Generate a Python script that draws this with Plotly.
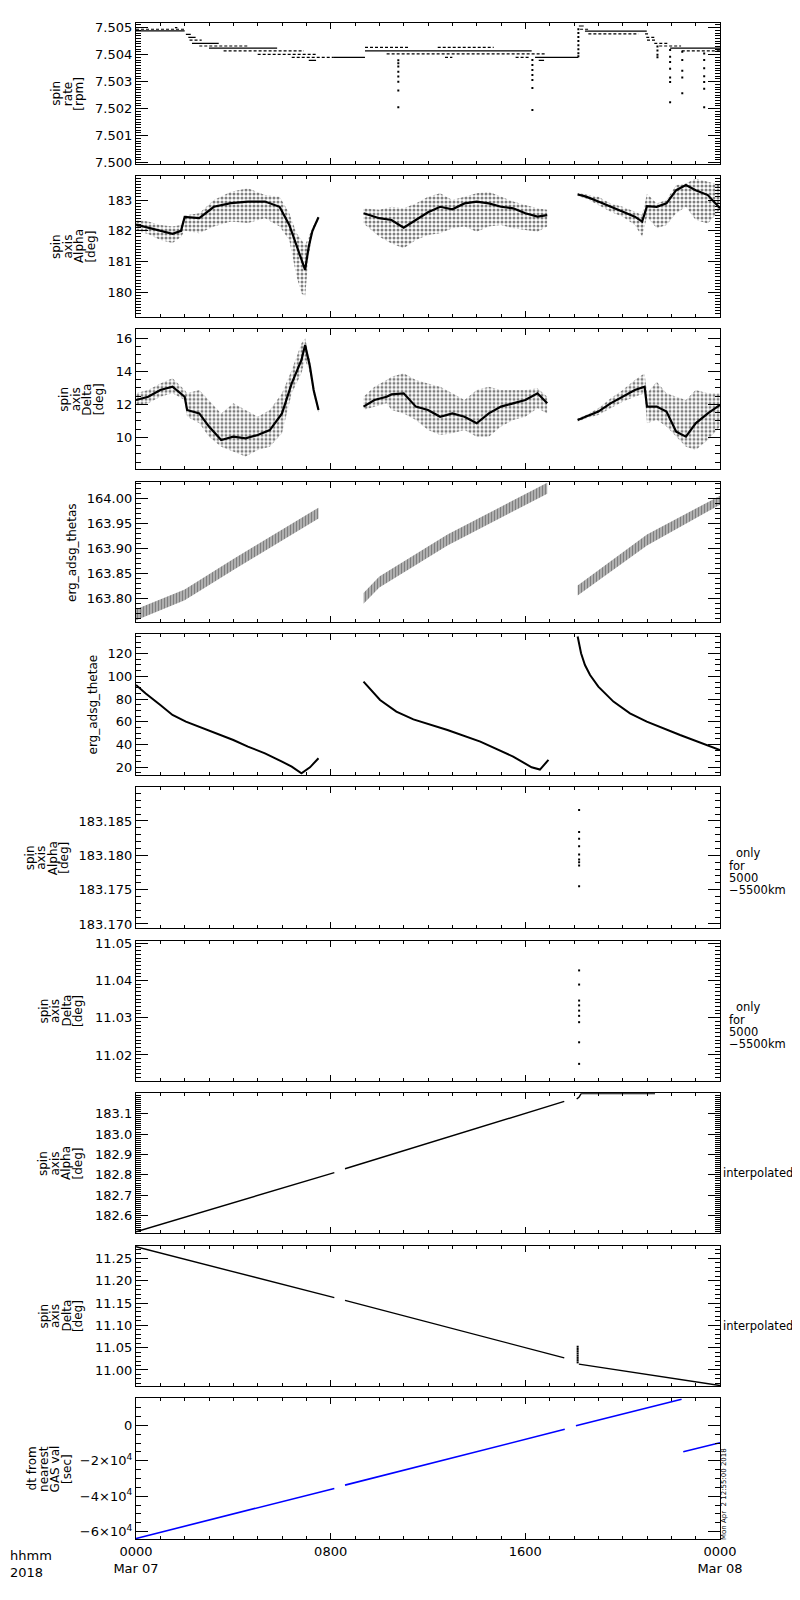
import plotly.graph_objects as go

FONT = "DejaVu Sans"
BLACK = "#000000"
BLUE = "#0000ff"

# -------------------------
# Panel 1: spin rate [rpm]  (flat steps, hour of day -> rpm)
# -------------------------
rate_solid_start = [0.0, 2.05, 2.15, 2.3, 3.0, 7.1, 8.1, 9.41, 16.4, 16.55, 18.2, 18.45, 21.95]
rate_solid_end = [2.0, 2.25, 2.45, 3.4, 5.8, 7.4, 9.41, 16.26, 18.18, 16.77, 18.4, 20.99, 24.0]
rate_solid_val = [7.50488, 7.50475, 7.50464, 7.50442, 7.50424, 7.50379, 7.50390, 7.50414,
                  7.50390, 7.50379, 7.50506, 7.50487, 7.50424]

rate_dot_start = [0.0, 1.6, 2.2, 2.6, 3.6, 5.0, 6.4, 9.41, 12.4, 10.3, 12.7, 15.6, 18.25,
                  18.59, 20.92, 20.97, 21.0, 21.3, 21.5, 22.43]
rate_dot_end = [2.0, 1.7, 2.7, 4.6, 6.9, 7.4, 8.1, 11.2, 14.7, 16.8, 13.0, 16.2, 18.6,
                20.65, 21.06, 21.38, 21.38, 21.9, 22.4, 24.0]
rate_dot_val = [7.50494, 7.50500, 7.50454, 7.50432, 7.50414, 7.50401, 7.50390, 7.50427,
                7.50427, 7.50403, 7.50390, 7.50390, 7.50494, 7.50477, 7.50477, 7.50464,
                7.50454, 7.50442, 7.50432, 7.50414]

rate_drop_hour = [10.78, 16.29, 18.18, 21.43, 21.95, 22.45, 23.35]
rate_drop_vals = [
    [7.50379, 7.50368, 7.50356, 7.50337, 7.50319, 7.50300, 7.50267, 7.50205],
    [7.50380, 7.50362, 7.50343, 7.50325, 7.50306, 7.50276, 7.50195],
    [7.50394, 7.50405, 7.50420, 7.50435, 7.50450, 7.50465, 7.50480, 7.50494],
    [7.50430, 7.50415, 7.50400, 7.50390],
    [7.50417, 7.50392, 7.50373, 7.50348, 7.50315, 7.50299, 7.50224],
    [7.50411, 7.50380, 7.50340, 7.50315, 7.50257],
    [7.50404, 7.50380, 7.50350, 7.50320, 7.50299, 7.50274, 7.50205],
]

# -------------------------
# Panel 2: spin axis Alpha [deg]  (scatter cloud: upper / core / lower)
# -------------------------
alpha_hr_1 = [0.0, 0.5, 1.0, 1.5, 1.85, 2.0, 2.6, 3.2, 3.9, 4.6, 5.3, 5.9, 6.3, 6.6, 6.8, 6.95, 7.1, 7.25, 7.5]
alpha_up_1 = [182.35, 182.30, 182.19, 182.14, 182.19, 182.50, 182.57, 183.00, 183.27, 183.38,
              183.16, 183.11, 182.57, 181.92, 181.70, 181.54, 181.81, 182.10, 182.48]
alpha_core_1 = [182.20, 182.10, 182.00, 181.90, 182.00, 182.45, 182.41, 182.78, 182.90, 182.95,
                182.95, 182.78, 182.19, 181.49, 181.05, 180.73, 181.49, 182.00, 182.44]
alpha_lo_1 = [182.00, 181.90, 181.70, 181.60, 181.80, 182.00, 181.92, 182.14, 182.30, 182.25,
              182.41, 182.14, 181.70, 180.51, 179.97, 179.86, 181.20, 181.90, 182.38]

alpha_hr_2 = [9.35, 10.0, 10.5, 11.0, 11.5, 12.0, 12.5, 13.0, 13.5, 14.0, 14.5, 15.0, 15.5, 16.0, 16.5, 16.9]
alpha_up_2 = [182.73, 182.68, 182.78, 182.73, 182.89, 183.11, 183.22, 183.00, 183.11, 183.22,
              183.27, 183.11, 182.95, 182.84, 182.73, 182.68]
alpha_core_2 = [182.57, 182.41, 182.35, 182.10, 182.35, 182.60, 182.78, 182.70, 182.89, 182.95,
                182.89, 182.78, 182.73, 182.57, 182.46, 182.51]
alpha_lo_2 = [182.24, 181.81, 181.59, 181.43, 181.70, 181.86, 181.92, 182.08, 182.14, 181.97,
              182.14, 182.19, 182.08, 182.03, 181.97, 182.14]

alpha_hr_3 = [18.15, 18.5, 19.0, 19.5, 20.0, 20.5, 20.8, 21.0, 21.4, 21.8, 22.2, 22.6, 23.0, 23.5, 24.0]
alpha_up_3 = [183.23, 183.18, 183.11, 182.89, 182.78, 182.62, 182.51, 183.20, 182.89, 183.00,
              183.49, 183.54, 183.70, 183.59, 183.49]
alpha_core_3 = [183.18, 183.11, 182.95, 182.78, 182.62, 182.46, 182.30, 182.80, 182.78, 182.89,
                183.32, 183.49, 183.32, 183.16, 182.73]
alpha_lo_3 = [183.13, 183.05, 182.84, 182.62, 182.46, 182.19, 181.81, 182.46, 182.08, 182.19,
              182.57, 182.78, 182.35, 182.24, 182.68]

# -------------------------
# Panel 3: spin axis Delta [deg]
# -------------------------
delta_hr_1 = [0.0, 0.5, 1.0, 1.5, 2.0, 2.1, 2.6, 3.0, 3.5, 4.0, 4.5, 5.0, 5.5, 6.0, 6.4, 6.8, 6.95, 7.15, 7.3, 7.5]
delta_up_1 = [12.67, 12.87, 13.27, 13.58, 12.87, 12.67, 12.87, 12.26, 11.45, 12.06, 11.66, 11.25,
              11.66, 12.67, 14.08, 15.70, 16.00, 14.69, 13.10, 11.85]
delta_core_1 = [12.26, 12.46, 12.87, 13.07, 12.46, 11.66, 11.45, 10.65, 9.84, 10.04, 9.94, 10.14,
                10.44, 11.45, 13.27, 14.69, 15.60, 14.28, 12.87, 11.66]
delta_lo_1 = [11.96, 12.06, 12.46, 12.67, 12.26, 11.25, 10.85, 10.04, 9.43, 9.13, 8.83, 9.23,
              9.43, 10.24, 12.67, 13.88, 14.69, 13.88, 12.60, 11.50]

delta_hr_2 = [9.35, 9.8, 10.3, 10.5, 11.0, 11.5, 12.0, 12.5, 13.0, 13.5, 14.0, 14.5, 15.0, 15.5, 16.0, 16.5, 16.9]
delta_up_2 = [12.46, 13.07, 13.47, 13.68, 13.88, 13.47, 13.27, 13.07, 12.67, 12.26, 12.87, 13.07,
              12.87, 12.87, 12.87, 12.97, 12.46]
delta_core_2 = [11.86, 12.26, 12.46, 12.60, 12.67, 11.86, 11.66, 11.25, 11.45, 11.25, 10.85, 11.45,
                11.86, 12.06, 12.26, 12.67, 12.06]
delta_lo_2 = [11.66, 11.86, 12.06, 11.66, 11.45, 11.05, 10.44, 10.14, 10.24, 10.44, 10.04, 10.04,
              10.65, 11.05, 11.25, 11.76, 11.45]

delta_hr_3 = [18.15, 18.5, 19.0, 19.5, 20.0, 20.5, 20.9, 21.0, 21.4, 21.8, 22.2, 22.6, 23.0, 23.5, 24.0]
delta_up_3 = [11.15, 11.35, 11.76, 12.36, 12.87, 13.47, 13.88, 12.67, 13.37, 12.67, 12.46, 12.26,
              12.87, 12.67, 12.67]
delta_core_3 = [11.05, 11.25, 11.56, 12.06, 12.46, 12.87, 13.07, 11.86, 11.86, 11.56, 10.34, 10.04,
                10.85, 11.45, 11.96]
delta_lo_3 = [10.95, 11.15, 11.35, 11.76, 12.16, 12.46, 12.67, 10.85, 11.05, 10.65, 10.04, 9.43,
              9.23, 9.84, 10.65]

# -------------------------
# Panel 4: erg_adsg_thetas (hatched band)
# -------------------------
thetas_hr = [[0.0, 2.0, 4.0, 6.0, 7.5], [9.35, 10.0, 12.8, 16.9], [18.15, 21.0, 24.0]]
thetas_up = [[163.778, 163.818, 163.879, 163.938, 163.982], [163.811, 163.844, 163.928, 164.032],
             [163.826, 163.928, 164.006]]
thetas_lo = [[163.756, 163.796, 163.857, 163.916, 163.960], [163.789, 163.822, 163.906, 164.010],
             [163.806, 163.906, 163.988]]

# -------------------------
# Panel 5: erg_adsg_thetae
# -------------------------
thetae_hr = [
    [0.0, 0.4, 1.0, 1.5, 2.05, 2.6, 3.3, 4.0, 4.6, 5.3, 6.0, 6.4, 6.8, 7.15, 7.5],
    [9.35, 10.03, 10.7, 11.4, 12.8, 14.15, 15.5, 16.26, 16.6, 16.95],
    [18.15, 18.29, 18.45, 18.66, 19.0, 19.62, 20.3, 20.99, 22.36, 24.0],
]
thetae_val = [
    [92.4, 85.0, 74.8, 66.0, 60.2, 55.8, 50.0, 44.0, 38.2, 32.3, 25.0, 20.6, 14.7, 20.0, 28.0],
    [95.4, 79.2, 69.0, 62.2, 52.8, 42.6, 29.4, 20.0, 18.0, 26.5],
    [135.0, 120.3, 110.0, 101.2, 91.0, 77.8, 67.5, 60.2, 48.4, 35.2],
]

# -------------------------
# Panels 6-7: only for 5000-5500km (sparse points)
# -------------------------
gas_hr = 18.21
gas_alpha = [183.1866, 183.1834, 183.1824, 183.1813, 183.1801, 183.1794, 183.1790, 183.1785, 183.1755]
gas_delta = [11.0427, 11.0389, 11.0346, 11.0333, 11.0319, 11.0305, 11.0288, 11.0234, 11.0176]

# -------------------------
# Panels 8-9: interpolated
# -------------------------
ialpha_hr = [[0.0, 8.15], [8.59, 17.6], [18.11, 18.2, 18.3, 21.33]]
ialpha_val = [[182.521, 182.811], [182.830, 183.160], [183.172, 183.180, 183.199, 183.199]]

idelta_hr = [[0.0, 8.15], [8.59, 17.6], [18.2, 24.0]]
idelta_val = [[11.276, 11.162], [11.156, 11.027], [11.013, 10.965]]
idelta_jump = [11.052, 11.047, 11.042, 11.037, 11.032, 11.027, 11.022, 11.017]
idelta_jump_hr = 18.15

# -------------------------
# Panel 10: dt from nearest GAS val [sec]
# -------------------------
dt_hr = [[0.0, 8.15], [8.59, 17.62], [18.08, 22.42], [22.49, 24.0]]
dt_val = [[-63840, -35590], [-33730, -2260], [-200, 14690], [-14900, -9830]]

# -------------------------
# Axis setup per panel
# -------------------------
panel_top = [23.3, 176.0, 329.3, 481.7, 634.3, 787.3, 941.0, 1093.3, 1245.7, 1398.3]
panel_bot = [164.0, 316.7, 469.3, 622.3, 774.7, 928.3, 1081.0, 1233.3, 1386.0, 1539.0]
y_ranges = [[7.49995, 7.50516], [179.21, 183.78], [8.06, 16.55], [163.752, 164.034], [13.5, 137.0],
            [183.16937, 183.1899], [11.013, 11.0506], [182.5135, 183.1998], [10.964, 11.2784],
            [-64120, 15250]]
y_tick0 = [7.5, 180, 10, 163.8, 20, 183.17, 11.02, 182.6, 11.0, 0]
y_dtick = [0.001, 1, 2, 0.05, 20, 0.005, 0.01, 0.1, 0.05, 20000]
y_minor = [0.0001, 0.1, 0.5, 0.01, 5, 0.001, 0.001, 0.01, 0.01, 5000]
y_fmt = [".3f", "d", "d", ".2f", "d", ".3f", ".2f", ".1f", ".2f", "d"]
dt_tickvals = [-60000, -40000, -20000, 0]
dt_ticktext = ["\u22126\u00d710<sup>4</sup>", "\u22124\u00d710<sup>4</sup>",
               "\u22122\u00d710<sup>4</sup>", "0"]

y_titles = [
    ["spin", "rate", "[rpm]"],
    ["spin", "axis", "Alpha", "[deg]"],
    ["spin", "axis", "Delta", "[deg]"],
    ["erg_adsg_thetas"],
    ["erg_adsg_thetae"],
    ["spin", "axis", "Alpha", "[deg]"],
    ["spin", "axis", "Delta", "[deg]"],
    ["spin", "axis", "Alpha", "[deg]"],
    ["spin", "axis", "Delta", "[deg]"],
    ["dt from", "nearest", "GAS val", "[sec]"],
]
title_x = [67.5, 74, 81.7, 72, 92, 46.7, 60.8, 61, 61, 49]

# the page body keeps an 8px margin, so the figure sits at (8, 8)
OFF = 8
W, H = 800 - 2 * OFF, 1600 - 2 * OFF


def px_x(x):
    return (x - OFF) / W


def px_y(y):
    return 1 - (y - OFF) / H


def axn(k):
    return ("x" if k == 0 else f"x{k+1}", "y" if k == 0 else f"y{k+1}")


fig = go.Figure()


def add_line(k, xs, ys, width=1.0, color=BLACK, dash="solid"):
    xa, ya = axn(k)
    fig.add_trace(go.Scatter(x=xs, y=ys, mode="lines", xaxis=xa, yaxis=ya,
                             line=dict(color=color, width=width, dash=dash),
                             hoverinfo="skip", showlegend=False))


def add_dots(k, xs, ys, size=2):
    xa, ya = axn(k)
    fig.add_trace(go.Scatter(x=xs, y=ys, mode="markers", xaxis=xa, yaxis=ya,
                             marker=dict(color=BLACK, size=size, symbol="square"),
                             hoverinfo="skip", showlegend=False))


def add_band(k, hrs, upper, lower, shape, size, solidity):
    xa, ya = axn(k)
    fig.add_trace(go.Scatter(x=hrs, y=lower, mode="lines", xaxis=xa, yaxis=ya,
                             line=dict(width=0, color="rgba(0,0,0,0)"),
                             hoverinfo="skip", showlegend=False))
    fig.add_trace(go.Scatter(x=hrs, y=upper, mode="lines", xaxis=xa, yaxis=ya, fill="tonexty",
                             fillcolor="rgba(0,0,0,0)",
                             fillpattern=dict(shape=shape, size=size, solidity=solidity,
                                              fgcolor=BLACK, bgcolor="white"),
                             line=dict(width=0, color="rgba(0,0,0,0)"),
                             hoverinfo="skip", showlegend=False))


def seg_xy(starts, ends, vals):
    xs, ys = [], []
    for s, e, v in zip(starts, ends, vals):
        xs += [s, e, None]
        ys += [v, v, None]
    return xs, ys


# panel 1
xs, ys = seg_xy(rate_solid_start, rate_solid_end, rate_solid_val)
add_line(0, xs, ys, width=1.2)
xs, ys = seg_xy(rate_dot_start, rate_dot_end, rate_dot_val)
add_line(0, xs, ys, width=1.2, dash="3px,2px")
for h, vals in zip(rate_drop_hour, rate_drop_vals):
    add_dots(0, [h] * len(vals), vals, size=2)

# panels 2 & 3
for hr, up, core, lo in [(alpha_hr_1, alpha_up_1, alpha_core_1, alpha_lo_1),
                         (alpha_hr_2, alpha_up_2, alpha_core_2, alpha_lo_2),
                         (alpha_hr_3, alpha_up_3, alpha_core_3, alpha_lo_3)]:
    add_band(1, hr, up, lo, ".", 4, 0.45)
    add_line(1, hr, core, width=2.2)
for hr, up, core, lo in [(delta_hr_1, delta_up_1, delta_core_1, delta_lo_1),
                         (delta_hr_2, delta_up_2, delta_core_2, delta_lo_2),
                         (delta_hr_3, delta_up_3, delta_core_3, delta_lo_3)]:
    add_band(2, hr, up, lo, ".", 4, 0.45)
    add_line(2, hr, core, width=2.2)

# panel 4
for hr, up, lo in zip(thetas_hr, thetas_up, thetas_lo):
    add_band(3, hr, up, lo, "|", 3, 0.75)

# panel 5
for hr, v in zip(thetae_hr, thetae_val):
    add_line(4, hr, v, width=2)

# panels 6 & 7
add_dots(5, [gas_hr] * len(gas_alpha), gas_alpha, size=2)
add_dots(6, [gas_hr] * len(gas_delta), gas_delta, size=2)

# panels 8 & 9
for hr, v in zip(ialpha_hr, ialpha_val):
    add_line(7, hr, v, width=1.4)
for hr, v in zip(idelta_hr, idelta_val):
    add_line(8, hr, v, width=1.4)
add_dots(8, [idelta_jump_hr] * len(idelta_jump), idelta_jump, size=2)

# panel 10
for hr, v in zip(dt_hr, dt_val):
    add_line(9, hr, v, width=1.6, color=BLUE)

# -------------------------
# Layout
# -------------------------
layout = dict(width=W, height=H, margin=dict(l=0, r=0, t=0, b=0, pad=0), autosize=False,
              paper_bgcolor="white", plot_bgcolor="white", showlegend=False,
              font=dict(family=FONT, size=13, color=BLACK))

for k in range(10):
    xa, ya = axn(k)
    xkey = "xaxis" if k == 0 else f"xaxis{k+1}"
    ykey = "yaxis" if k == 0 else f"yaxis{k+1}"
    layout[xkey] = dict(
        domain=[px_x(136), px_x(720)], range=[0, 24], anchor=ya, automargin=False,
        showline=True, mirror="allticks", linecolor=BLACK, linewidth=1.3,
        ticks="inside", ticklen=6, tickwidth=1, tickcolor=BLACK,
        tickmode="array", tickvals=[0, 8, 16, 24],
        ticktext=["0000<br>Mar 07", "0800", "1600", "0000<br>Mar 08"],
        showticklabels=(k == 9), showgrid=False, zeroline=False,
        tickfont=dict(family=FONT, size=13, color=BLACK),
        minor=dict(ticks="inside", ticklen=3, tickwidth=1, tickcolor=BLACK,
                   tickmode="linear", tick0=0, dtick=1, showgrid=False),
    )
    yax = dict(
        domain=[px_y(panel_bot[k]), px_y(panel_top[k])], range=y_ranges[k], anchor=xa,
        automargin=False,
        showline=True, mirror="allticks", linecolor=BLACK, linewidth=1.3,
        ticks="inside", ticklen=12, tickwidth=1, tickcolor=BLACK,
        showgrid=False, zeroline=False,
        tickfont=dict(family=FONT, size=13, color=BLACK),
        minor=dict(ticks="inside", ticklen=5, tickwidth=1, tickcolor=BLACK,
                   tickmode="linear", tick0=y_tick0[k], dtick=y_minor[k], showgrid=False),
    )
    if k == 9:
        yax.update(tickmode="array", tickvals=dt_tickvals, ticktext=dt_ticktext)
    else:
        yax.update(tickmode="linear", tick0=y_tick0[k], dtick=y_dtick[k], tickformat=y_fmt[k])
    layout[ykey] = yax

fig.update_layout(**layout)

# rotated y titles, one annotation per line so the line spacing stays tight
LINE = 11.5
for k, lines in enumerate(y_titles):
    yc = (panel_top[k] + panel_bot[k]) / 2
    n = len(lines)
    for i, txt in enumerate(lines):
        xc = title_x[k] + (i - (n - 1) / 2) * LINE
        fig.add_annotation(xref="paper", yref="paper", x=px_x(xc), y=px_y(yc), text=txt,
                           textangle=-90, showarrow=False, xanchor="center", yanchor="middle",
                           font=dict(family=FONT, size=12, color=BLACK))

# right-side notes
only_lines = ["only", "for", "5000", "\u22125500km"]
only_x = [734, 727, 727, 727]
only_dy = [66.0, 78.5, 90.5, 102.5]
for k in (5, 6):
    for txt, xl, dy in zip(only_lines, only_x, only_dy):
        fig.add_annotation(xref="paper", yref="paper", x=px_x(xl), y=px_y(panel_top[k] + dy),
                           text=txt, showarrow=False, xanchor="left", yanchor="middle",
                           font=dict(family=FONT, size=11.5, color=BLACK))
for k, yc in ((7, 1172.7), (8, 1326.0)):
    fig.add_annotation(xref="paper", yref="paper", x=px_x(721), y=px_y(yc), text="interpolated",
                       showarrow=False, xanchor="left", yanchor="middle",
                       font=dict(family=FONT, size=11.5, color=BLACK))

# bottom-left time label and the run stamp
fig.add_annotation(xref="paper", yref="paper", x=px_x(8), y=px_y(1546), text="hhmm<br>2018",
                   showarrow=False, xanchor="left", yanchor="top", align="left",
                   font=dict(family=FONT, size=13, color=BLACK))
fig.add_annotation(xref="paper", yref="paper", x=px_x(724), y=px_y(1494),
                   text="Mon Apr  2 12:55:00 2018", textangle=-90, showarrow=False,
                   xanchor="center", yanchor="middle", font=dict(family=FONT, size=7, color=BLACK))

fig.write_html("out.html")
